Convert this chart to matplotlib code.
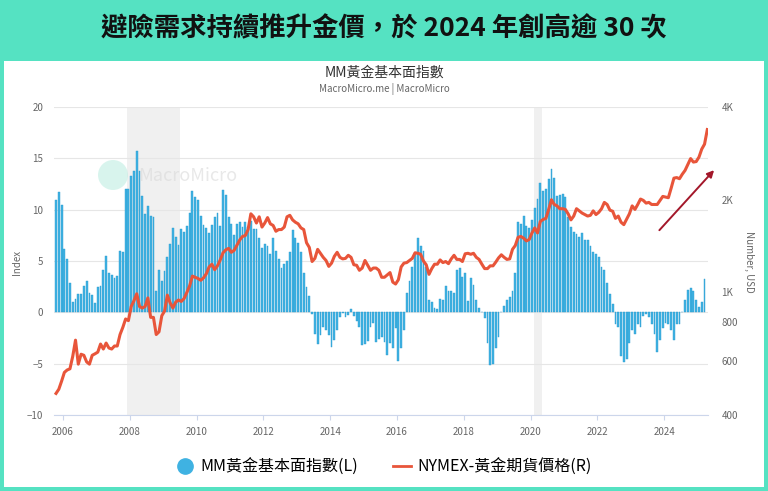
import matplotlib
matplotlib.use('Agg')
import matplotlib.pyplot as plt
from matplotlib.patches import Rectangle, Ellipse
from matplotlib.lines import Line2D
from matplotlib.ticker import NullLocator

plt.rcParams['font.family'] = ['Noto Sans CJK TC', 'DejaVu Sans']

# MM黃金基本面指數, monthly from 2005-10 to 2025-03
mm_index = [
    10.9, 11.7, 10.5, 6.2, 5.2, 2.9, 1.0, 1.3, 1.8, 1.8, 2.6, 3.1,
    1.9, 1.7, 0.9, 2.5, 2.6, 4.1, 5.5, 3.8, 3.6, 3.3, 3.5, 6.0,
    5.9, 12.0, 12.0, 13.3, 13.8, 15.7, 13.8, 11.3, 9.6, 10.4, 9.4, 9.3,
    2.1, 4.1, 3.1, 4.0, 5.4, 6.7, 8.2, 7.3, 6.6, 8.1, 7.8, 8.4,
    9.7, 11.8, 11.2, 10.9, 9.4, 8.5, 8.2, 7.7, 8.5, 9.3, 9.7, 8.4,
    11.9, 11.4, 9.3, 8.6, 7.5, 8.6, 8.8, 8.3, 8.8, 8.3, 8.9, 8.1,
    8.1, 7.2, 6.3, 6.7, 6.5, 5.7, 7.2, 6.0, 5.2, 4.3, 4.7, 5.0,
    5.9, 8.0, 7.2, 6.8, 5.9, 3.8, 2.5, 1.6, -0.2, -2.1, -3.1, -2.2,
    -1.4, -1.7, -2.2, -3.4, -2.7, -1.7, -0.5, -0.1, -0.5, -0.3, 0.3, -0.4,
    -0.8, -1.4, -3.2, -3.1, -2.8, -1.4, -1.0, -2.9, -2.6, -2.4, -2.9, -4.2,
    -3.0, -3.5, -1.5, -4.7, -3.5, -1.7, 1.9, 3.1, 4.4, 5.7, 7.2, 6.5,
    6.0, 4.4, 1.2, 1.0, 0.4, 0.3, 1.3, 1.2, 2.6, 2.1, 2.1, 1.9,
    4.1, 4.3, 3.4, 3.8, 1.1, 3.3, 2.7, 1.2, 0.4, 0.0, -0.6, -3.0,
    -5.1, -5.0, -3.5, -2.4, 0.0, 0.6, 1.2, 1.5, 2.1, 3.8, 8.8, 8.6,
    9.4, 8.4, 8.2, 9.0, 10.2, 11.0, 12.6, 11.8, 12.0, 13.0, 14.0, 13.1,
    11.3, 11.4, 11.5, 11.2, 9.3, 8.3, 7.8, 7.6, 7.3, 7.7, 7.0, 7.0,
    6.5, 5.9, 5.7, 5.4, 4.4, 4.1, 2.9, 1.8, 0.8, -1.1, -1.4, -4.3,
    -4.8, -4.5, -3.0, -1.7, -2.1, -1.1, -1.4, -0.4, -0.2, -0.5, -1.1, -2.1,
    -3.9, -2.7, -1.5, -1.0, -1.1, -1.7, -2.7, -1.1, -1.1, 0.0, 1.2, 2.2,
    2.4, 2.1, 1.2, 0.5, 1.0, 3.2,
]

# NYMEX 黃金期貨價格 (USD), monthly from 2005-10 to 2025-04
gold_price = [
    470, 485, 515,
    550, 560, 565, 620, 700, 585, 630, 625, 595, 585, 625, 632,
    640, 680, 655, 685, 660, 655, 670, 670, 730, 770, 820, 810,
    900, 940, 990, 900, 890, 900, 960, 830, 830, 730, 745, 840,
    870, 980, 925, 890, 930, 945, 935, 955, 1000, 1050, 1130, 1120,
    1110, 1095, 1115, 1150, 1210, 1235, 1185, 1220, 1275, 1345, 1375, 1390,
    1350, 1370, 1425, 1480, 1520, 1530, 1600, 1800, 1760, 1680, 1760, 1630,
    1680, 1750, 1670, 1650, 1580, 1600, 1600, 1630, 1760, 1780, 1720, 1690,
    1670, 1620, 1600, 1450, 1400, 1260, 1290, 1380, 1340, 1300, 1270, 1215,
    1245, 1310, 1350, 1300, 1285, 1290, 1320, 1300, 1230, 1225, 1180, 1200,
    1270, 1225, 1180, 1200, 1200, 1180, 1120, 1120, 1140, 1160, 1080, 1065,
    1100, 1210, 1245, 1250, 1270, 1290, 1345, 1340, 1330, 1265, 1230, 1145,
    1195, 1235, 1235, 1275, 1250, 1260, 1240, 1285, 1320, 1280, 1280, 1260,
    1335, 1340, 1330, 1340, 1300, 1280, 1235, 1195, 1195, 1220, 1220, 1255,
    1295, 1325, 1300, 1280, 1285, 1380, 1420, 1510, 1520, 1500, 1470, 1485,
    1560, 1620, 1560, 1700, 1725, 1740, 1860, 2000, 1930, 1910, 1870, 1870,
    1860, 1800, 1720, 1770, 1870, 1840, 1810, 1790, 1770, 1780, 1840, 1790,
    1820, 1870, 1960, 1930, 1850, 1835, 1740, 1770, 1690, 1660, 1730, 1800,
    1910, 1860, 1930, 2010, 1990, 1950, 1960, 1930, 1930, 1930, 1990, 2050,
    2040, 2030, 2180, 2350, 2360, 2340, 2420, 2490, 2600, 2720, 2650, 2660,
    2750, 2920, 3030, 3380,
]

year_ticks = [2006, 2008, 2010, 2012, 2014, 2016, 2018, 2020, 2022, 2024]
left_ticks = [-10, -5, 0, 5, 10, 15, 20]
right_ticks = [400, 600, 800, 1000, 2000, 4000]
right_labels = ['400', '600', '800', '1K', '2K', '4K']
recessions = [(2007.92, 2009.5), (2020.1, 2020.33)]

title = '避險需求持續推升金價，於 2024 年創高逾 30 次'
chart_title = 'MM黃金基本面指數'
subtitle = 'MacroMicro.me | MacroMicro'
legend_labels = ['MM黃金基本面指數(L)', 'NYMEX-黃金期貨價格(R)']

bar_color = '#3fb2e2'
line_color = '#e8553a'
teal = '#55e2c2'
gray_txt = '#666666'

# mid-month positions in fractional years
x_bar = [2005 + (9 + i + 0.5) / 12 for i in range(len(mm_index))]
x_gold = [2005 + (9 + i + 0.5) / 12 for i in range(len(gold_price))]

W, H = 768, 491
fig = plt.figure(figsize=(W / 100, H / 100), dpi=100)
fig.patch.set_facecolor(teal)

# white card
fig.add_artist(Rectangle((4 / W, 1 - 487 / H), 760 / W, 426 / H,
                         transform=fig.transFigure, facecolor='white',
                         edgecolor='none', zorder=0))

fig.text(0.5, 1 - 29 / H, title, ha='center', va='center', fontsize=19,
         fontweight='bold', color='#111111')
fig.text(0.5, 1 - 73 / H, chart_title, ha='center', va='center',
         fontsize=10, color='#333333')
fig.text(0.5, 1 - 89 / H, subtitle, ha='center', va='center',
         fontsize=7, color=gray_txt)

ax = fig.add_axes([54.3 / W, 1 - 415 / H, 653.3 / W, 308 / H])
ax.set_facecolor('none')
ax.set_xlim(2005.74, 2025.30)
ax.set_ylim(-10, 20)

for a, b in recessions:
    ax.axvspan(a, b, color='#f0f0f0', zorder=0, lw=0)

ax.set_yticks(left_ticks)
ax.grid(axis='y', color='#e6e6e6', lw=0.8, zorder=0)
ax.set_axisbelow(True)
ax.bar(x_bar, mm_index, width=0.055, color=bar_color, edgecolor='#2c9ccf',
       linewidth=0.3, zorder=2)

ax.set_xticks(year_ticks)
ax.set_xticklabels([str(y) for y in year_ticks])
ax.tick_params(axis='x', length=3.5, color='#ccd6eb', labelsize=7,
               labelcolor=gray_txt, pad=5)
ax.tick_params(axis='y', length=0, labelsize=7, labelcolor=gray_txt, pad=8)
for s in ['top', 'left', 'right']:
    ax.spines[s].set_visible(False)
ax.spines['bottom'].set_color('#ccd6eb')

ax2 = ax.twinx()
ax2.set_yscale('log')
ax2.set_ylim(400, 4000)
ax2.plot(x_gold, gold_price, color=line_color, lw=2.2, zorder=3,
         solid_joinstyle='round')
ax2.set_yticks(right_ticks)
ax2.set_yticklabels(right_labels)
ax2.yaxis.set_minor_locator(NullLocator())
ax2.tick_params(axis='y', length=0, labelsize=7, labelcolor=gray_txt, pad=10)
for s in ['top', 'left', 'right', 'bottom']:
    ax2.spines[s].set_visible(False)

# trend arrow
ax.annotate('', xy=(2025.55, 14.05), xytext=(2023.8, 7.8),
            arrowprops=dict(arrowstyle='-|>', color='#a3172a', lw=1.4,
                            mutation_scale=10),
            annotation_clip=False, zorder=5)

fig.text(17 / W, 1 - 262 / H, 'Index', rotation=90, ha='center',
         va='center', fontsize=7, color=gray_txt)
fig.text(749 / W, 1 - 262 / H, 'Number, USD', rotation=270, ha='center',
         va='center', fontsize=7, color=gray_txt)

# watermark
fig.add_artist(Ellipse((113 / W, 1 - 175 / H), 30 / W, 30 / H,
                       transform=fig.transFigure, facecolor='#bfeee2',
                       edgecolor='none', alpha=0.6, zorder=6))
fig.text(138 / W, 1 - 176 / H, 'MacroMicro', ha='left', va='center',
         fontsize=13, color='#d9d9d9', alpha=0.6, zorder=6)

handles = [Line2D([], [], marker='o', linestyle='', markersize=11,
                  color=bar_color),
           Line2D([], [], color=line_color, lw=2)]
fig.legend(handles, legend_labels, loc='center', bbox_to_anchor=(0.5, 1 - 467 / H),
           ncol=2, frameon=False, fontsize=11.5, handlelength=1.1,
           handletextpad=0.4, columnspacing=2.2)

plt.savefig('out.png', dpi=100, facecolor=fig.get_facecolor())
